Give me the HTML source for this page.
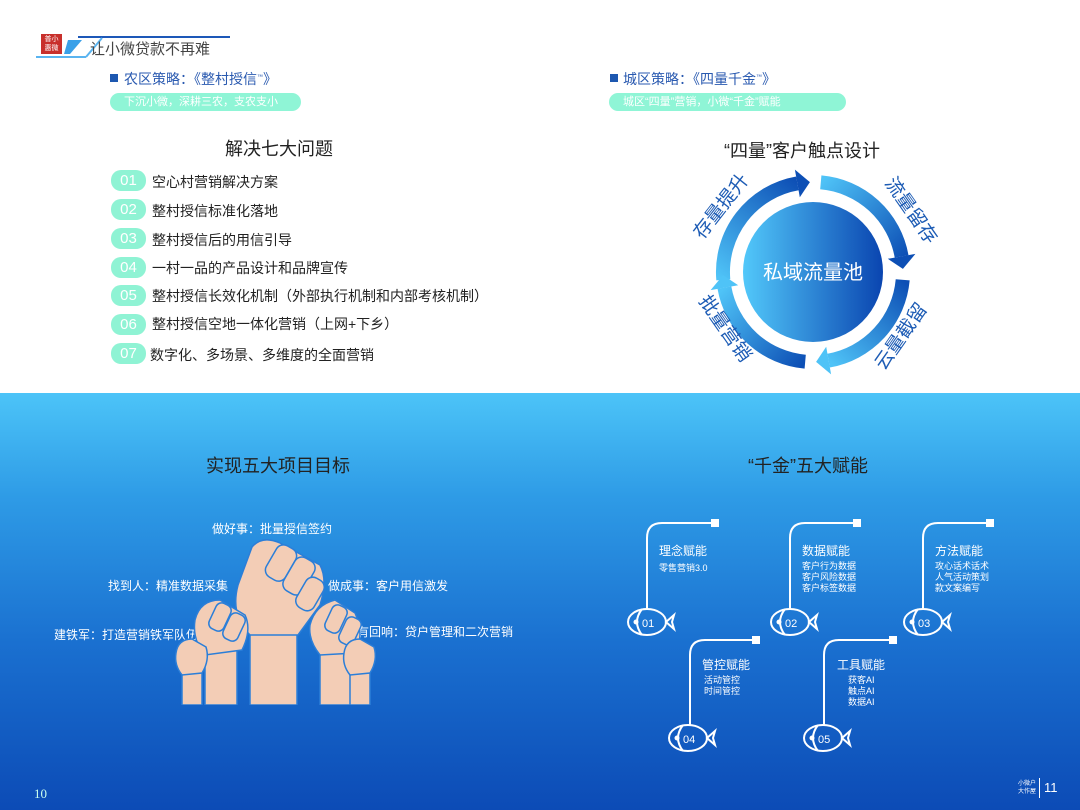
<!DOCTYPE html>
<html><head><meta charset="utf-8"><style>
*{margin:0;padding:0;box-sizing:border-box}
body{width:1080px;height:810px;overflow:hidden;position:relative;background:#fff;font-family:"Liberation Sans","Noto Sans CJK SC",sans-serif}
.a{position:absolute;white-space:nowrap}
.bot{position:absolute;left:0;top:393px;width:1080px;height:417px;background:linear-gradient(180deg,#4cc4f8 0%,#2e9be6 25%,#1a70d0 60%,#0c4bb6 100%)}
.pill{position:absolute;height:18px;border-radius:9px;background:#8ff5d6;color:#fff;font-size:11px;line-height:18px;padding-left:14px}
.num{position:absolute;left:111px;width:35px;height:21px;border-radius:10px;background:#8ff3d4;color:#fff;font-size:15px;line-height:21px;text-align:center}
.it{position:absolute;left:152px;font-size:14px;color:#222}
.w{color:#fff}
</style></head><body>
<div class="bot"></div>
<div class="a" style="left:41px;top:34px;width:21px;height:20px;background:#c8302c;color:#fff;font-size:7px;line-height:9px;text-align:center;padding-top:1px">普小<br>惠微</div>
<svg class="a" style="left:34px;top:34px" width="200" height="26"><polygon points="34,6 48,6 36,20 30,20" fill="#3aa0e8"/><line x1="44" y1="3" x2="196" y2="3" stroke="#1d58b8" stroke-width="2"/><line x1="2" y1="23" x2="52" y2="23" stroke="#5ab4f0" stroke-width="2"/><line x1="52" y1="23" x2="68" y2="4" stroke="#5ab4f0" stroke-width="2"/></svg>
<div class="a" style="left:90px;top:38px;font-size:15px;color:#444">让小微贷款不再难</div>
<div class="a" style="left:110px;top:74px;width:8px;height:8px;background:#1d58b0"></div>
<div class="a" style="left:124px;top:69px;font-size:14px;color:#2a5ab0">农区策略：《整村授信<sup style="font-size:6px">™</sup>》</div>
<div class="pill" style="left:110px;top:93px;width:191px">下沉小微，深耕三农，支农支小</div>
<div class="a" style="left:610px;top:74px;width:8px;height:8px;background:#1d58b0"></div>
<div class="a" style="left:623px;top:69px;font-size:14px;color:#2a5ab0">城区策略：《四量千金<sup style="font-size:6px">™</sup>》</div>
<div class="pill" style="left:609px;top:93px;width:237px">城区“四量”营销，小微“千金”赋能</div>
<div class="a" style="left:225px;top:135px;font-size:18px;color:#222">解决七大问题</div>
<div class="a" style="left:724px;top:137px;font-size:18px;color:#222">“四量”客户触点设计</div>
<div class="num" style="top:170px">01</div><div class="it" style="top:172px">空心村营销解决方案</div>
<div class="num" style="top:199px">02</div><div class="it" style="top:201px">整村授信标准化落地</div>
<div class="num" style="top:228px">03</div><div class="it" style="top:230px">整村授信后的用信引导</div>
<div class="num" style="top:257px">04</div><div class="it" style="top:258px">一村一品的产品设计和品牌宣传</div>
<div class="num" style="top:285px">05</div><div class="it" style="top:286px">整村授信长效化机制（外部执行机制和内部考核机制）</div>
<div class="num" style="top:314px">06</div><div class="it" style="top:314px">整村授信空地一体化营销（上网+下乡）</div>
<div class="num" style="top:343px">07</div><div class="it" style="left:150px;top:345px">数字化、多场景、多维度的全面营销</div>
<svg class="a" style="left:0;top:0" width="1080" height="400">
<defs>
<linearGradient id="c" x1="0" x2="1"><stop offset="0" stop-color="#52c8fa"/><stop offset="1" stop-color="#0a45b0"/></linearGradient>
<linearGradient id="g1" gradientUnits="userSpaceOnUse" x1="723" y1="280" x2="800" y2="183"><stop offset="0" stop-color="#4fc3f7"/><stop offset="1" stop-color="#0d4fb5"/></linearGradient>
<linearGradient id="g2" gradientUnits="userSpaceOnUse" x1="821" y1="182" x2="902" y2="260"><stop offset="0" stop-color="#4fc3f7"/><stop offset="1" stop-color="#0d4fb5"/></linearGradient>
<linearGradient id="g3" gradientUnits="userSpaceOnUse" x1="903" y1="280" x2="828" y2="360"><stop offset="0" stop-color="#0d4fb5"/><stop offset="1" stop-color="#4fc3f7"/></linearGradient>
<linearGradient id="g4" gradientUnits="userSpaceOnUse" x1="805" y1="362" x2="724" y2="288"><stop offset="0" stop-color="#0d4fb5"/><stop offset="1" stop-color="#4fc3f7"/></linearGradient>
</defs>
<circle cx="813" cy="272" r="70" fill="url(#c)"/>
<path d="M723.3,279.8 A90,90 0 0 1 797.4,183.4" fill="none" stroke="url(#g1)" stroke-width="14"/>
<polygon points="799.8,197.2 794.9,169.6 809.9,182.1" fill="#0d4fb5"/>
<path d="M820.8,182.3 A90,90 0 0 1 901.6,256.4" fill="none" stroke="url(#g2)" stroke-width="14"/>
<polygon points="887.8,258.8 915.4,253.9 902.9,268.9" fill="#0d4fb5"/>
<path d="M902.7,279.8 A90,90 0 0 1 828.6,360.6" fill="none" stroke="url(#g3)" stroke-width="14"/>
<polygon points="826.2,346.8 831.1,374.4 816.1,361.9" fill="#4fc3f7"/>
<path d="M805.2,361.7 A90,90 0 0 1 724.4,287.6" fill="none" stroke="url(#g4)" stroke-width="14"/>
<polygon points="738.2,285.2 710.6,290.1 723.1,275.1" fill="#4fc3f7"/>
<text x="813" y="279" font-size="20" fill="#fff" text-anchor="middle" font-family="Liberation Sans,Noto Sans CJK SC,sans-serif">私域流量池</text>
<g font-size="19" fill="#1d5cb5" font-family="Liberation Sans,Noto Sans CJK SC,sans-serif" text-anchor="middle">
<text transform="translate(726,210) rotate(-52)">存量提升</text>
<text transform="translate(906,214) rotate(55)">流量留存</text>
<text transform="translate(906,340) rotate(-55)">云量截留</text>
<text transform="translate(720,332) rotate(55)">批量营销</text>
</g>
</svg>
<div class="a" style="left:206px;top:452px;font-size:18px;color:#222">实现五大项目目标</div>
<div class="a" style="left:748px;top:452px;font-size:18px;color:#222">“千金”五大赋能</div>
<div class="a w" style="left:212px;top:520px;font-size:12px">做好事：批量授信签约</div>
<div class="a w" style="left:108px;top:577px;font-size:12px">找到人：精准数据采集</div>
<div class="a w" style="left:328px;top:577px;font-size:12px">做成事：客户用信激发</div>
<div class="a w" style="left:54px;top:626px;font-size:12px">建铁军：打造营销铁军队伍</div>
<div class="a w" style="left:357px;top:623px;font-size:12px">有回响：贷户管理和二次营销</div>
<svg class="a" style="left:170px;top:535px" width="220" height="170">
<g fill="#f3cdb6" stroke="#2b7ed8" stroke-width="1.5">
<rect x="80" y="80" width="47" height="90"/>
<path d="M68,50 L82,12 Q92,0 110,8 L150,30 Q158,45 150,70 L128,100 L80,100 Q60,80 68,50Z"/>
<rect x="100" y="10" width="22" height="36" rx="8" transform="rotate(30 111 28)"/>
<rect x="118" y="22" width="22" height="38" rx="8" transform="rotate(30 129 41)"/>
<rect x="130" y="42" width="20" height="34" rx="8" transform="rotate(30 140 59)"/>
<rect x="35" y="110" width="32" height="60"/>
<path d="M25,85 Q30,65 50,65 L75,80 Q82,95 72,115 L35,120 Q22,105 25,85Z"/>
<rect x="42" y="68" width="16" height="28" rx="6" transform="rotate(25 50 82)"/>
<rect x="56" y="78" width="16" height="28" rx="6" transform="rotate(25 64 92)"/>
<rect x="150" y="110" width="32" height="60"/>
<path d="M140,90 Q145,70 165,65 L185,78 Q195,100 185,118 L150,120 Q138,105 140,90Z"/>
<rect x="158" y="70" width="16" height="28" rx="6" transform="rotate(25 166 84)"/>
<rect x="172" y="82" width="16" height="28" rx="6" transform="rotate(25 180 96)"/>
<rect x="12" y="135" width="20" height="35"/>
<path d="M6,118 Q8,104 22,104 L36,112 Q40,125 32,138 L12,140 Q4,130 6,118Z"/>
<rect x="180" y="135" width="20" height="35"/>
<path d="M174,118 Q176,104 190,104 L204,112 Q208,125 200,138 L180,140 Q172,130 174,118Z"/>
</g>
</svg>
<svg class="a" style="left:600px;top:500px" width="420" height="260" fill="none" stroke="#fff" stroke-width="2">
<path d="M47,110 V38 Q47,23 62,23 H115"/><rect x="112" y="20" width="6" height="6" fill="#fff"/>
<path d="M190,110 V38 Q190,23 205,23 H257"/><rect x="254" y="20" width="6" height="6" fill="#fff"/>
<path d="M323,110 V38 Q323,23 338,23 H390"/><rect x="387" y="20" width="6" height="6" fill="#fff"/>
<path d="M90,226 V155 Q90,140 105,140 H156"/><rect x="153" y="137" width="6" height="6" fill="#fff"/>
<path d="M224,226 V155 Q224,140 239,140 H293"/><rect x="290" y="137" width="6" height="6" fill="#fff"/>
<g>
<ellipse cx="47" cy="122" rx="19" ry="13"/><path d="M42,109 Q32,122 42,135"/><path d="M66,122 L74,115 L72,122 L74,129Z"/><circle cx="36" cy="122" r="1.5" fill="#fff"/>
<ellipse cx="190" cy="122" rx="19" ry="13"/><path d="M185,109 Q175,122 185,135"/><path d="M209,122 L217,115 L215,122 L217,129Z"/><circle cx="179" cy="122" r="1.5" fill="#fff"/>
<ellipse cx="323" cy="122" rx="19" ry="13"/><path d="M318,109 Q308,122 318,135"/><path d="M342,122 L350,115 L348,122 L350,129Z"/><circle cx="312" cy="122" r="1.5" fill="#fff"/>
<ellipse cx="88" cy="238" rx="19" ry="13"/><path d="M83,225 Q73,238 83,251"/><path d="M107,238 L115,231 L113,238 L115,245Z"/><circle cx="77" cy="238" r="1.5" fill="#fff"/>
<ellipse cx="223" cy="238" rx="19" ry="13"/><path d="M218,225 Q208,238 218,251"/><path d="M242,238 L250,231 L248,238 L250,245Z"/><circle cx="212" cy="238" r="1.5" fill="#fff"/>
</g>
<g fill="#fff" stroke="none" font-size="11" font-family="Liberation Sans,sans-serif">
<text x="42" y="127">01</text><text x="185" y="127">02</text><text x="318" y="127">03</text><text x="83" y="243">04</text><text x="218" y="243">05</text>
</g>
</svg>
<div class="a w" style="left:659px;top:542px;font-size:12px">理念赋能</div>
<div class="a w" style="left:659px;top:561px;font-size:9px">零售营销3.0</div>
<div class="a w" style="left:802px;top:542px;font-size:12px">数据赋能</div>
<div class="a w" style="left:802px;top:561px;font-size:9px;line-height:11px">客户行为数据<br>客户风险数据<br>客户标签数据</div>
<div class="a w" style="left:935px;top:542px;font-size:12px">方法赋能</div>
<div class="a w" style="left:935px;top:561px;font-size:9px;line-height:11px">攻心话术话术<br>人气活动策划<br>款文案编写</div>
<div class="a w" style="left:702px;top:656px;font-size:12px">管控赋能</div>
<div class="a w" style="left:704px;top:675px;font-size:9px;line-height:11px">活动管控<br>时间管控</div>
<div class="a w" style="left:837px;top:656px;font-size:12px">工具赋能</div>
<div class="a w" style="left:848px;top:675px;font-size:9px;line-height:11px">获客AI<br>触点AI<br>数据AI</div>
<div class="a w" style="left:34px;top:786px;font-size:13px;font-family:'Liberation Serif',serif;color:#cfe">10</div>
<div class="a w" style="left:1018px;top:780px;font-size:6px;line-height:8px">小微户<br>大作屋</div>
<div class="a" style="left:1039px;top:778px;width:1px;height:20px;background:#fff"></div>
<div class="a w" style="left:1044px;top:780px;font-size:13px">11</div>
</body></html>
